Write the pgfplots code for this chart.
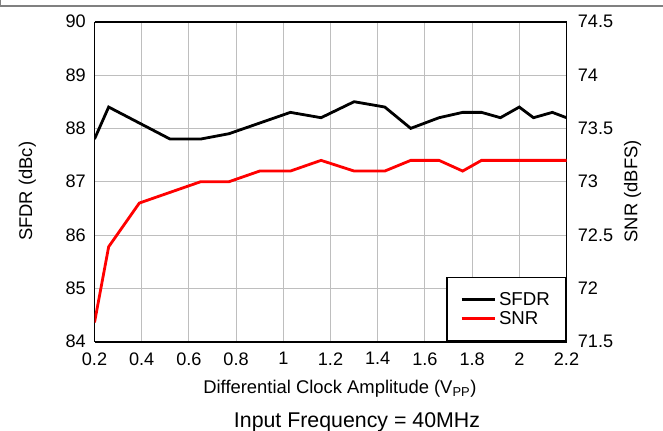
\documentclass[border=0pt]{standalone}
\usepackage{pgfplots}
\pgfplotsset{compat=1.18}
\usepackage{fontspec}
\setmainfont{Liberation Sans}
\definecolor{gridgray}{RGB}{190,190,190}
\definecolor{framegray}{RGB}{128,128,128}
\begin{document}
\begin{tikzpicture}
\path[use as bounding box] (0pt,0pt) rectangle (497.25pt,322.5pt);
\draw[framegray, line width=1.1pt] (0.4pt,322.5pt) -- (0.4pt,318pt) -- (497.25pt,318pt);
\begin{axis}[
  at={(70.875pt,66.225pt)}, anchor=south west,
  scale only axis, width=354pt, height=240pt,
  xmin=0.2, xmax=2.2, ymin=84, ymax=90,
  xtick={0.2,0.4,...,2.2}, ytick={84,85,...,90},
  xticklabels={0.2,0.4,0.6,0.8,1,1.2,1.4,1.6,1.8,2,2.2},
  /pgf/number format/assume math mode=true,
  tick label style={font=\fontsize{13.6}{15}\selectfont},
  major tick length=0pt,
  grid=major,
  major grid style={gridgray, line width=0.8pt},
  axis line style={black, line width=1.4pt},
  axis y line*=left,
  axis x line*=box,
  xlabel={Differential Clock Amplitude (V\textsubscript{PP})},
  ylabel={SFDR (dBc)},
  label style={font=\fontsize{13.8}{15}\selectfont},
  xlabel style={at={(axis description cs:0.52,-0.146)}, anchor=center},
  ylabel style={at={(axis description cs:-0.142,0.47)}, anchor=center, rotate=0},
  xticklabel style={yshift=-4.5pt},
  yticklabel style={xshift=-3pt},
]
\addplot[black, line width=2.1pt] coordinates {
(0.2,87.8) (0.26,88.4) (0.39,88.1) (0.52,87.8) (0.65,87.8) (0.77,87.9)
(0.9,88.1) (1.03,88.3) (1.16,88.2) (1.3,88.5) (1.43,88.4) (1.54,88.0)
(1.66,88.2) (1.76,88.3) (1.84,88.3) (1.92,88.2) (2.0,88.4) (2.06,88.2)
(2.14,88.3) (2.2,88.2)};
\end{axis}
\begin{axis}[
  at={(70.875pt,66.225pt)}, anchor=south west,
  scale only axis, width=354pt, height=240pt,
  xmin=0.2, xmax=2.2, ymin=71.5, ymax=74.5,
  axis x line=none,
  axis y line*=right,
  ytick={71.5,72,...,74.5},
  yticklabels={71.5,72,72.5,73,73.5,74,74.5},
  /pgf/number format/assume math mode=true,
  tick label style={font=\fontsize{13.6}{15}\selectfont},
  yticklabel style={xshift=5pt},
  major tick length=0pt,
  axis line style={black, line width=1.4pt},
  ylabel={SNR (dBFS)},
  label style={font=\fontsize{13.8}{15}\selectfont},
  ylabel style={at={(axis description cs:1.140,0.47)}, anchor=center},
  legend cell align=left,
  legend style={at={(1,0)}, anchor=south east, draw=black, line width=1pt,
    font=\fontsize{14}{16}\selectfont, inner xsep=10pt, inner ysep=9pt,
    row sep=-1pt},
  legend image code/.code={\draw[#1, line width=2.1pt] (0pt,0pt) -- (25pt,0pt);},
]
\addlegendimage{black, line width=2.1pt}
\addlegendentry{SFDR}
\addplot[red, line width=2.1pt] coordinates {
(0.2,71.68) (0.26,72.39) (0.39,72.8) (0.52,72.9) (0.65,73.0) (0.77,73.0)
(0.9,73.1) (1.03,73.1) (1.16,73.2) (1.3,73.1) (1.43,73.1) (1.54,73.2)
(1.66,73.2) (1.76,73.1) (1.84,73.2) (1.92,73.2) (2.0,73.2) (2.06,73.2)
(2.14,73.2) (2.2,73.2)};
\addlegendentry{SNR}
\end{axis}
\node[font=\fontsize{16}{19}\selectfont] at (267.75pt,6pt) {Input Frequency = 40MHz};
\end{tikzpicture}
\end{document}
